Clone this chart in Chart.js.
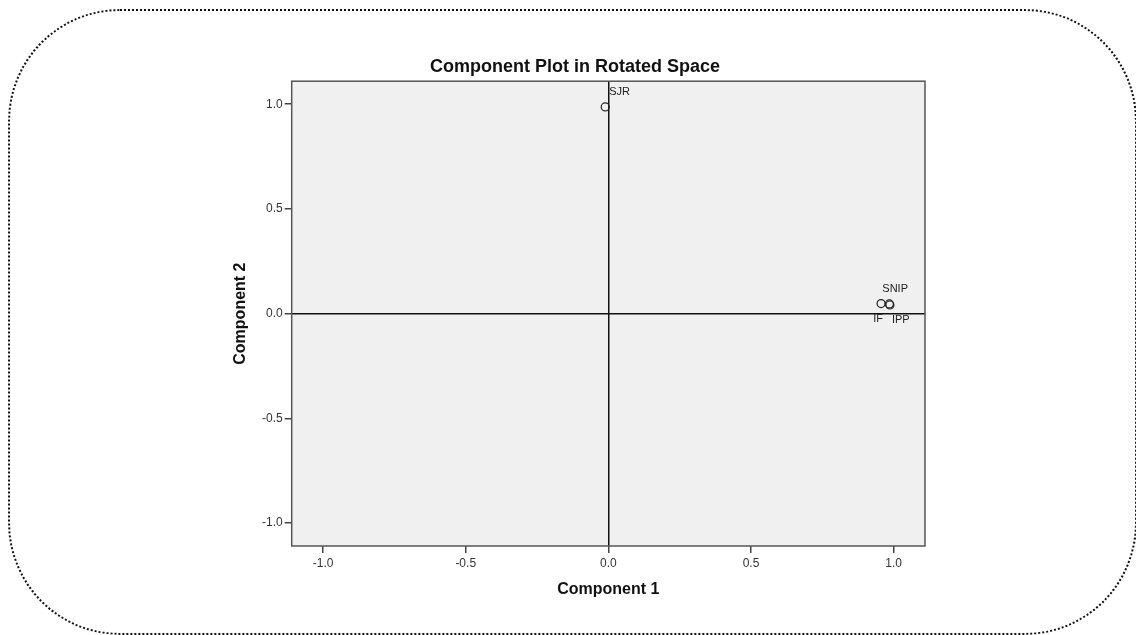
<!DOCTYPE html>
<html>
<head>
<meta charset="utf-8">
<script src="https://cdn.jsdelivr.net/npm/chart.js@4"></script>
<style>
 body { margin: 0; background: #fff; width: 1136px; height: 635px; overflow: hidden; position: relative; }
 #frame { position: absolute; left: 8px; top: 9px; width: 1125px; height: 622px;
   border: 2px dotted #111; border-radius: 112px; }
 #box { position: absolute; left: 200px; top: 56px; width: 750px; height: 547px; }
</style>
</head>
<body>
<div id="frame"></div>
<div id="box"><canvas id="chartScatter"></canvas></div>
<script>
var varNames = ['SJR', 'SNIP', 'IF', 'IPP'];
var comp1 = [-0.011, 0.985, 0.956, 0.987];
var comp2 = [0.987, 0.046, 0.048, 0.041];
var xTicks = [-1.0, -0.5, 0.0, 0.5, 1.0];
var yTicks = [-1.0, -0.5, 0.0, 0.5, 1.0];

// where each label sits relative to its point
var labelPos = {
  SJR:  { dx: 4,  dy: -15, align: 'left' },
  SNIP: { dx: -7, dy: -15, align: 'left' },
  IF:   { dx: 2,  dy: 15,  align: 'right' },
  IPP:  { dx: 2,  dy: 15,  align: 'left' }
};

var font = "'Liberation Sans', Arial, sans-serif";
Chart.defaults.font.family = font;

var points = varNames.map(function (n, i) { return { x: comp1[i], y: comp2[i] }; });

var plotDeco = {
  id: 'plotDeco',
  beforeDraw: function (chart) {
    var a = chart.chartArea, c = chart.ctx;
    c.save();
    c.fillStyle = '#f0f0f0';
    c.fillRect(a.left, a.top, a.right - a.left, a.bottom - a.top);
    c.restore();
  },
  afterDatasetsDraw: function (chart) {
    var a = chart.chartArea, c = chart.ctx;
    c.save();
    c.strokeStyle = '#555';
    c.lineWidth = 1.5;
    c.strokeRect(a.left, a.top, a.right - a.left, a.bottom - a.top);
    c.fillStyle = '#222';
    c.font = '11px ' + font;
    c.textBaseline = 'middle';
    var meta = chart.getDatasetMeta(0);
    meta.data.forEach(function (pt, i) {
      var p = labelPos[varNames[i]];
      c.textAlign = p.align;
      c.fillText(varNames[i], pt.x + p.dx, pt.y + p.dy);
    });
    c.restore();
  }
};

function zeroLine(ctx) {
  return ctx.tick && ctx.tick.value === 0 ? '#111' : 'rgba(0,0,0,0)';
}

var chartScatter = new Chart(document.getElementById('chartScatter'), {
  type: 'scatter',
  data: {
    datasets: [{
      label: 'Loadings',
      data: points,
      pointStyle: 'circle',
      pointRadius: 4,
      pointBorderWidth: 1.2,
      borderColor: '#222',
      backgroundColor: 'rgba(0,0,0,0)'
    }]
  },
  options: {
    responsive: true,
    maintainAspectRatio: false,
    animation: false,
    layout: { padding: { left: 25, right: 25, top: 0, bottom: 0 } },
    plugins: {
      legend: { display: false },
      tooltip: { enabled: false },
      title: {
        display: true,
        text: 'Component Plot in Rotated Space',
        color: '#111',
        font: { size: 18, weight: 'bold' },
        padding: { top: 0, bottom: 3.6 }
      }
    },
    scales: {
      x: {
        type: 'linear',
        min: -1.11, max: 1.11,
        afterBuildTicks: function (s) { s.ticks = xTicks.map(function (v) { return { value: v }; }); },
        afterFit: function (s) { s.height = 57; },
        border: { display: false },
        grid: { color: zeroLine, lineWidth: 1.5, tickColor: '#444', tickLength: 7, drawOnChartArea: true },
        ticks: { color: '#333', font: { size: 12 }, padding: 3, maxRotation: 0,
          callback: function (v) { return v.toFixed(1); } },
        title: { display: true, text: 'Component 1', color: '#111',
          font: { size: 16, weight: 'bold' }, padding: { top: 4, bottom: 4 } }
      },
      y: {
        type: 'linear',
        min: -1.11, max: 1.11,
        afterBuildTicks: function (s) { s.ticks = yTicks.map(function (v) { return { value: v }; }); },
        afterFit: function (s) { s.width = 66.7; },
        border: { display: false },
        grid: { color: zeroLine, lineWidth: 1.5, tickColor: '#444', tickLength: 7, drawOnChartArea: true },
        ticks: { color: '#333', font: { size: 12 }, padding: 2,
          callback: function (v) { return v.toFixed(1); } },
        title: { display: true, text: 'Component 2', color: '#111',
          font: { size: 16, weight: 'bold' }, padding: { top: 6, bottom: 4 } }
      }
    }
  },
  plugins: [plotDeco]
});
</script>
</body>
</html>
